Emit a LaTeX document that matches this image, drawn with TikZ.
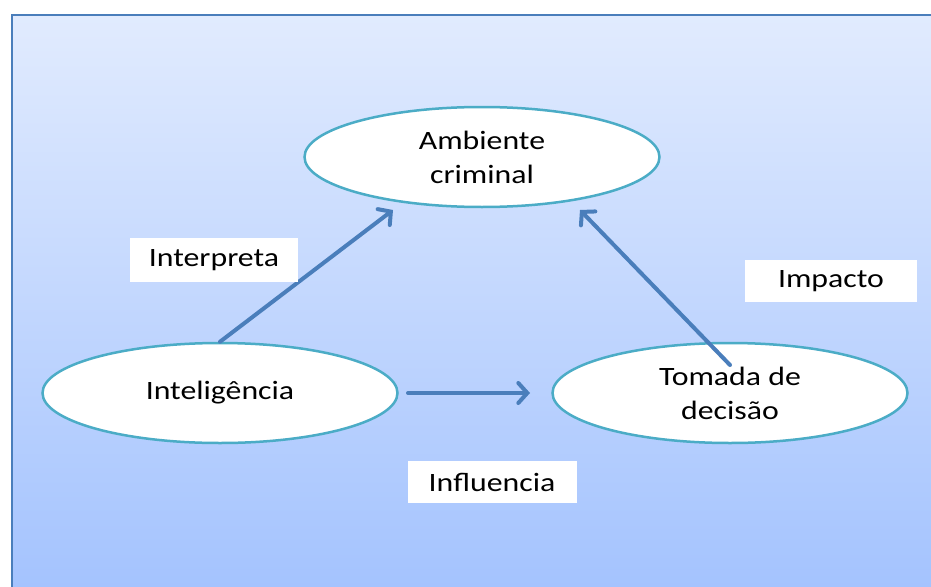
\documentclass[tikz,border=0pt]{standalone}
\usepackage{fontspec}
\setmainfont[FakeStretch=1.2]{Carlito}
\usetikzlibrary{shapes.geometric,arrows.meta}
\definecolor{fundoTopo}{RGB}{225,235,254}
\definecolor{fundoBase}{RGB}{164,195,254}
\definecolor{borda}{RGB}{74,126,187}
\definecolor{contorno}{RGB}{75,172,198}
\definecolor{seta}{RGB}{74,126,187}
\begin{document}
\begin{tikzpicture}[x=1pt,y=-1pt,
  elipse/.style={ellipse,draw=contorno,line width=2.5pt,fill=white,minimum width=355pt,minimum height=100pt,align=center,font=\fontsize{26.5}{34}\selectfont},
  rotulo/.style={fill=white,inner sep=0pt,font=\fontsize{26.5}{34}\selectfont},
  fluxo/.style={draw=seta,line width=4pt,line cap=round,-{Straight Barb[length=9pt,width=20pt,line cap=round]}}]
\useasboundingbox (0,0) rectangle (931,586);
\shade[top color=fundoTopo,bottom color=fundoBase] (12,15) rectangle (940,590);
\draw[borda,line width=2.5pt] (12,590)--(12,15)--(940,15);

\node[elipse] (amb) at (482,157) {Ambiente\\criminal};
\node[elipse] (intel) at (220,393) {Inteligência};
\node[elipse] (toma) at (730,393) {Tomada de\\decisão};

\coordinate (pontaA) at (393,210);
\coordinate (pontaB) at (580,210);
\coordinate (inicioB) at (730,365);
\coordinate (inicioC) at (408,393);
\coordinate (pontaC) at (530,393);

\draw[fluxo] (intel.north) -- (pontaA);
\draw[fluxo] (inicioB) -- (pontaB);
\draw[fluxo] (inicioC) -- (pontaC);

\node[rotulo,minimum width=168pt,minimum height=44pt] (interp) at (214,260) {Interpreta};
\node[rotulo,minimum width=172pt,minimum height=42pt] (impac) at (831,281) {Impacto};
\node[rotulo,minimum width=169pt,minimum height=42pt] (influ) at (492,482) {Influencia};
\end{tikzpicture}
\end{document}
